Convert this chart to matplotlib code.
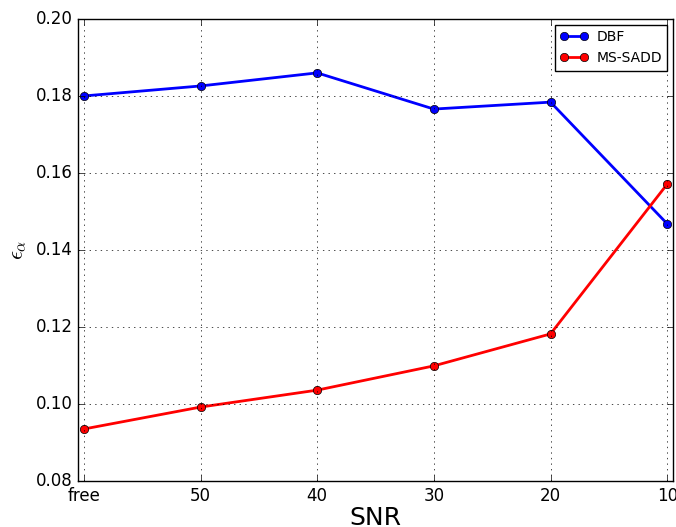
import numpy as np
import matplotlib
matplotlib.use("Agg")
import matplotlib.pyplot as plt

plt.style.use("classic")

snr_labels = ["free", "50", "40", "30", "20", "10"]
dbf = [0.1800, 0.1826, 0.1860, 0.1766, 0.1784, 0.1468]
ms_sadd = [0.0935, 0.0992, 0.1036, 0.1099, 0.1182, 0.1571]

x = np.arange(len(snr_labels))

fig = plt.figure(figsize=(6.76, 5.27), dpi=100, facecolor="white")
ax = fig.add_axes([0.1154, 0.0873, 0.8802, 0.8767])

ax.plot(x, dbf, "-o", color="blue", lw=2, ms=6, label="DBF")
ax.plot(x, ms_sadd, "-o", color="red", lw=2, ms=6, label="MS-SADD")

ax.set_xticks(x)
ax.set_xticklabels(snr_labels)
ax.set_xlim(-0.05, 5.05)
ax.set_ylim(0.08, 0.20)
ax.set_yticks(np.arange(0.08, 0.201, 0.02))
ax.tick_params(labelsize=12)
ax.grid(True)
ax.set_xlabel("SNR", fontsize=18, labelpad=1)
ax.set_ylabel(r"$\epsilon_\alpha$", fontsize=16)
ax.legend(loc="upper right", fontsize=10, numpoints=2, borderpad=0.4,
          handletextpad=0.6, borderaxespad=0.4)

fig.savefig("out.png", dpi=100, facecolor="white")
